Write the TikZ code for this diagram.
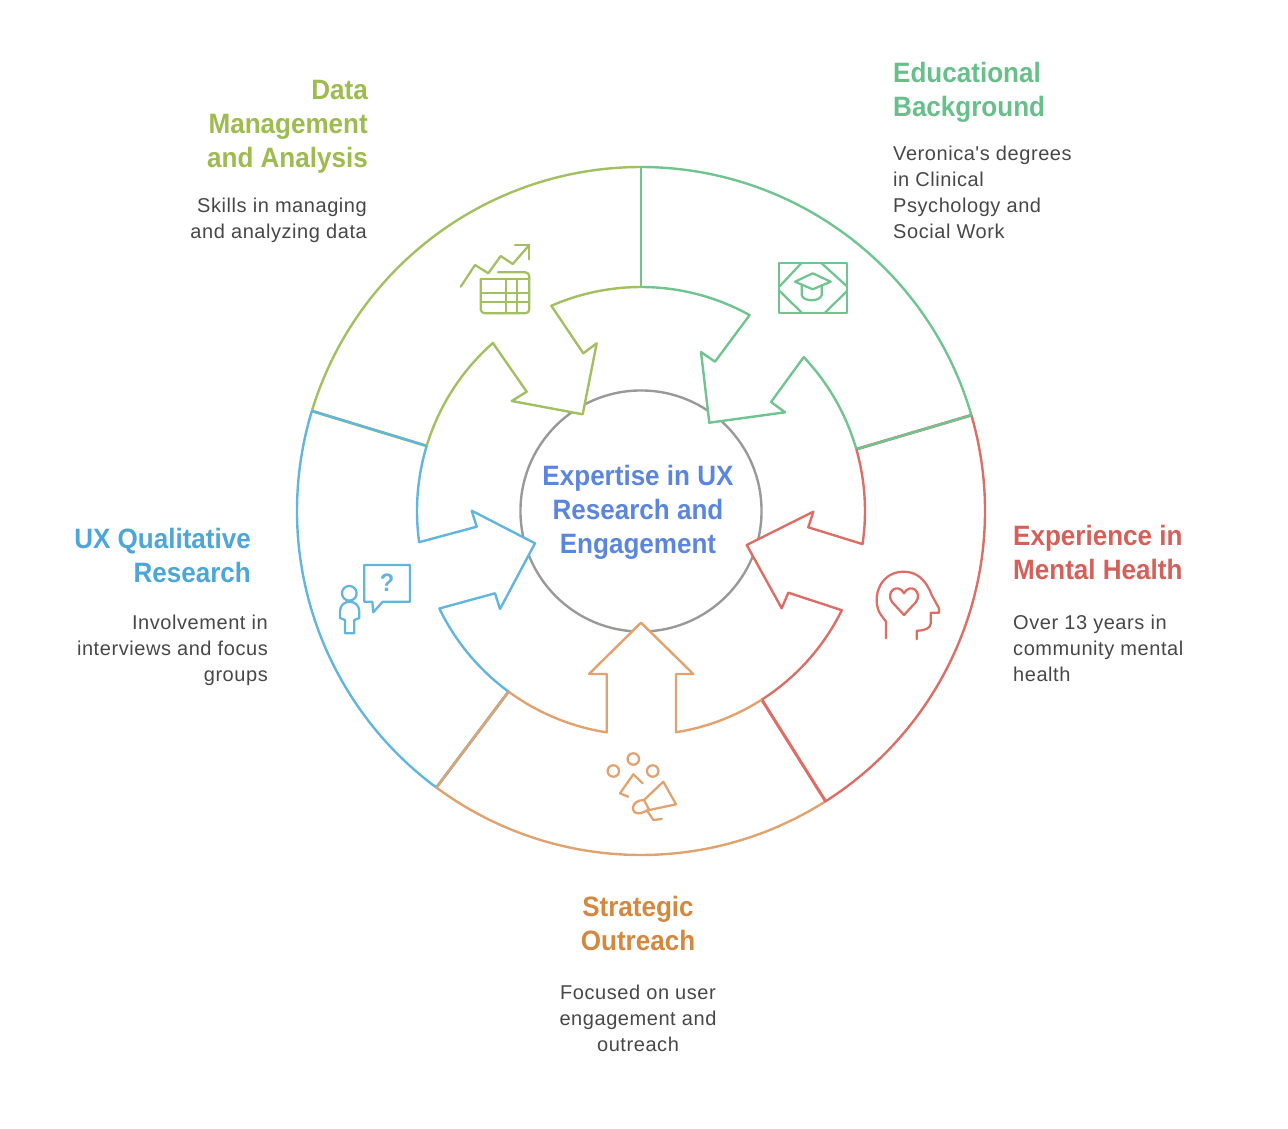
\documentclass[tikz,border=0pt]{standalone}
\usepackage{fontspec}
\usetikzlibrary{calc}
\newfontfamily\headfont[FakeStretch=0.93]{Liberation Sans}
\newfontfamily\bodyfont[LetterSpace=2.8]{Liberation Sans}
\definecolor{cLime}{HTML}{A3C060}
\definecolor{cGreen}{HTML}{70C48F}
\definecolor{cRed}{HTML}{DD6E66}
\definecolor{cOrange}{HTML}{E2A26E}
\definecolor{cBlue}{HTML}{62B5DD}
\definecolor{tLime}{HTML}{9DBB4E}
\definecolor{tGreen}{HTML}{67BF8A}
\definecolor{tRed}{HTML}{D5605A}
\definecolor{tOrange}{HTML}{D4883F}
\definecolor{tBlue}{HTML}{4CA6D8}
\definecolor{tCore}{HTML}{5B86E0}
\tikzset{
	head/.style={font=\headfont\bfseries\fontsize{21}{25.5}\selectfont,inner sep=0pt},
	note/.style={font=\bodyfont\fontsize{15}{19.5}\selectfont,text=black!72,inner sep=0pt},
	icon/.style={line width=1.7pt,line join=round,line cap=round}
}
\begin{document}
\begin{tikzpicture}[x=0.75pt,y=-0.75pt,line width=1.8pt,line join=round]
	\useasboundingbox (0,0) rectangle (1288,1128);
	\path (641,511) coordinate (O)
	(972,415) coordinate (P1) (857,449) coordinate (Q1)
	(826,802) coordinate (P2) (762,700) coordinate (Q2)
	(436,788) coordinate (P3) (509,691) coordinate (Q3)
	(312,411) coordinate (P4) (427,446) coordinate (Q4)
	(641,167) coordinate (P5) (641,288) coordinate (Q5);
	% centre circle
	\draw[black!40] (O) circle (90.4pt);
	\foreach \xa/\ya/\xb/\yb/\xc/\yc in {701/352/709.3/422.7/785/412.3,596.7/343.3/582.7/414.3/511.7/401,471.7/510.7/535/543.3/500/609,589/674/641/622.7/693.3/674,781.7/608.3/746.7/545/813.3/511.7}
	\fill[white] (\xa,\ya)--(\xb,\yb)--(\xc,\yc)--cycle;
	% outer ring
	\foreach \c/\a/\b in {cGreen/16.2/90,cLime/90/163.1,cBlue/163.1/233.5,cOrange/233.5/302.4,cRed/302.4/376.2}
	\draw[\c] ($(O)+(\a:258pt)$) arc[start angle=\a,end angle=\b,radius=258pt];
	\foreach \c/\u/\x in {cGreen/cRed/1,cRed/cRed/2,cOrange/cBlue/3,cBlue/cLime/4,cGreen/cGreen/5}{
		\draw[\u,line width=2.2pt] (P\x)--(Q\x);
		\draw[\c] (P\x)--(Q\x);
	}
	% arrows
	\draw[cGreen] ($(O)+(90:168pt)$) arc[start angle=90,end angle=61,radius=168pt]
	--(715,361.7)--(701,352)--(709.3,422.7)--(785,412.3)--(771,402)
	--($(O)+(43.4:168pt)$) arc[start angle=43.4,end angle=16,radius=168pt];
	\draw[cLime] ($(O)+(90:168pt)$) arc[start angle=90,end angle=113.6,radius=168pt]
	--(583.3,353.3)--(596.7,343.3)--(582.7,414.3)--(511.7,401)--(526.7,391.7)
	--($(O)+(131.4:168pt)$) arc[start angle=131.4,end angle=163.1,radius=168pt];
	\draw[cBlue] ($(O)+(163.1:168pt)$) arc[start angle=163.1,end angle=188,radius=168pt]
	--(476.7,526.7)--(471.7,510.7)--(535,543.3)--(500,609)--(495,593.3)
	--($(O)+(205.8:168pt)$) arc[start angle=205.8,end angle=233.7,radius=168pt];
	\draw[cOrange] ($(O)+(233.7:168pt)$) arc[start angle=233.7,end angle=261.2,radius=168pt]
	--(606.7,674)--(589,674)--(641,622.7)--(693.3,674)--(676,674)
	--($(O)+(279:168pt)$) arc[start angle=279,end angle=302.6,radius=168pt];
	\draw[cRed] ($(O)+(302.6:168pt)$) arc[start angle=302.6,end angle=333.7,radius=168pt]
	--(788.3,592.7)--(781.7,608.3)--(746.7,545)--(813.3,511.7)--(808.3,527.3)
	--($(O)+(351.5:168pt)$) arc[start angle=351.5,end angle=376,radius=168pt];
	% chart icon
	\begin{scope}[icon,cLime]
		\draw (460.7,286.7)--(475,265)--(488.3,273.3)--(500.7,256)--(512.7,264)--(529.3,245);
		\draw (515,245)--(529.3,245)--(529.3,259.3);
		\draw[rounded corners=3pt] (498,272.3)--(529.3,272.3)--(529.3,313.3)--(480.7,313.3)--(480.7,279.3);
		\draw (480.7,279.3)--(529.3,279.3) (480.7,293)--(529.3,293) (480.7,302)--(529.3,302);
		\draw (505.7,279.3)--(505.7,313.3) (517.3,279.3)--(517.3,313.3);
	\end{scope}
	% cap icon
	\begin{scope}[icon,cGreen]
		\draw (779.3,262.7) rectangle (847.3,312.7);
		\draw (779.3,286.7)--(801.7,262.7) (821,262.7)--(847.3,286.7) (847.3,290.7)--(825,312.7) (779.3,290.7)--(801.7,312.7);
		\draw (795,281.7)--(812.7,273.3)--(830.7,281.7)--(812.7,289.3)--cycle;
		\draw (801.7,285)--(801.7,295) .. controls (803,302) and (820,302) .. (821.7,295)--(821.7,285);
	\end{scope}
	% head icon
	\begin{scope}[icon,cRed]
		\draw (886,638.3)--(886,621.7)--(881,615) .. controls (871,601) and (878,572) .. (903.3,571.7) .. controls (917,571.5) and (926,580) .. (931.7,595)--(939,608.3)--(939,612.7)--(930.7,612.7)--(930.7,623.3) .. controls (930.7,628) and (925,630.7) .. (916.7,630.7)--(916.7,639.3);
		\draw (904,615)--(892,602) .. controls (885,592) and (898,582) .. (904,593.3) .. controls (910,582) and (923,592) .. (916,602)--cycle;
	\end{scope}
	% megaphone icon
	\begin{scope}[icon,cOrange]
		\foreach \x/\y in {613.3/771,633.3/759,652.7/771}
		\draw (\x,\y) circle (4.3pt);
		\draw (642.7,783.3)--(633.3,774.3)--(620,793.3)--(628.3,796.7);
		\draw (663.3,781.7)--(676,804.3)--(649.3,810)--(644,800)--cycle;
		\draw (644,800) .. controls (630,800) and (630,815) .. (640,813.3) -- (649.3,810);
		\draw (646.7,810)--(653.3,820)--(661.7,819);
	\end{scope}
	% person icon
	\begin{scope}[icon,cBlue]
		\draw (364.3,565)--(410,565)--(410,601.7)--(382.7,601.7)--(373.3,612.3)--(372.3,601.7)--(364.3,601.7)--cycle;
		\draw (349.3,593.3) circle (5.5pt);
		\draw (345,633.3)--(345,620)--(340,618)--(340,611) .. controls (340,605) and (345,601.7) .. (349.5,601.7) .. controls (354,601.7) and (359.3,605) .. (359.3,611)--(359.3,618)--(354.3,620)--(354.3,633.3)--cycle;
		\node[font=\headfont\bfseries\fontsize{19}{19}\selectfont,text=cBlue,inner sep=0pt] (mark) at (387,583) {?};
	\end{scope}
	% labels
	\node[head,text=tCore,align=center] (core) at (638,512) {Expertise in UX\\Research and\\Engagement};
	\node[head,text=tLime,align=right,anchor=east] (dataT) at (369,127) {Data\\Management\\and Analysis};
	\node[note,align=right,anchor=east] (dataN) at (368,220) {Skills in managing\\and analyzing data};
	\node[head,text=tGreen,align=left,anchor=west] (eduT) at (892,92) {Educational\\Background};
	\node[note,align=left,anchor=west] (eduN) at (892,192) {Veronica's degrees\\in Clinical\\Psychology and\\Social Work};
	\node[head,text=tRed,align=left,anchor=west] (expT) at (1012,552) {Experience in\\Mental Health};
	\node[note,align=left,anchor=west] (expN) at (1012,648) {Over 13 years in\\community mental\\health};
	\node[head,text=tOrange,align=center] (outT) at (638,923) {Strategic\\Outreach};
	\node[note,align=center] (outN) at (638,1018) {Focused on user\\engagement and\\outreach};
	\node[head,text=tBlue,align=right,anchor=east] (uxT) at (252,555) {UX Qualitative\\Research};
	\node[note,align=right,anchor=east] (uxN) at (269,650) {Involvement in\\interviews and focus\\groups};
\end{tikzpicture}
\end{document}
